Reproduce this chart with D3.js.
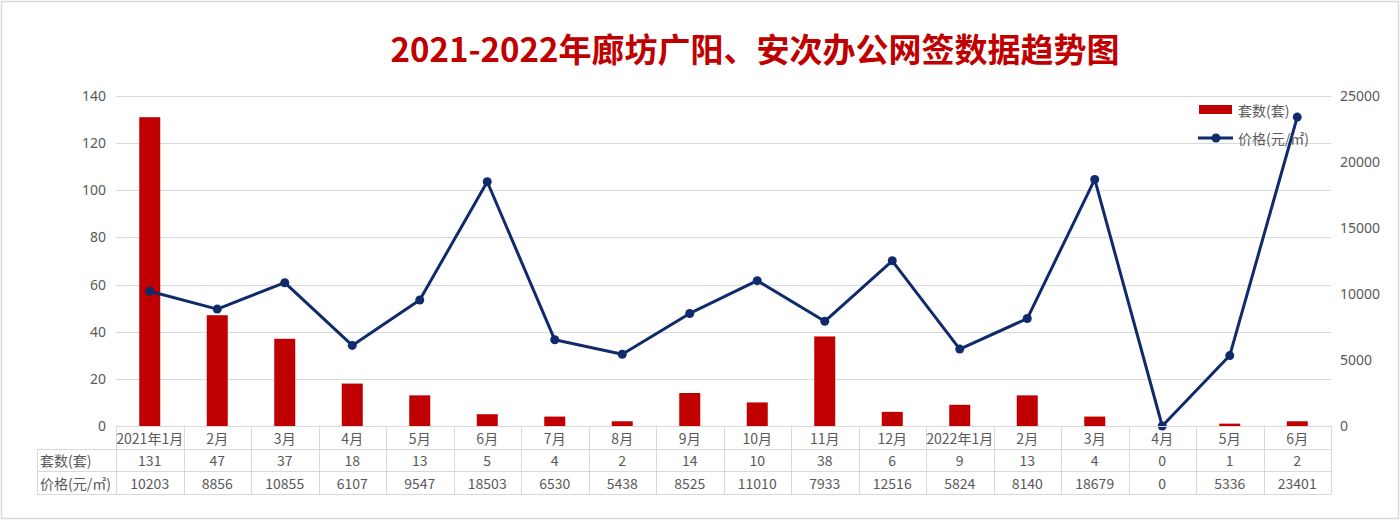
<!DOCTYPE html>
<html><head><meta charset="utf-8">
<script src="https://cdn.jsdelivr.net/npm/d3@7"></script>
<style>
html,body{margin:0;padding:0;background:#fff;}
svg{display:block;font-family:"Noto Sans CJK SC","Noto Sans",sans-serif;}
</style></head>
<body>
<svg id="c" width="1400" height="521"></svg>
<script>
const categories = ["2021年1月","2月","3月","4月","5月","6月","7月","8月","9月","10月","11月","12月","2022年1月","2月","3月","4月","5月","6月"];
const counts = [131,47,37,18,13,5,4,2,14,10,38,6,9,13,4,0,1,2];
const prices = [10203,8856,10855,6107,9547,18503,6530,5438,8525,11010,7933,12516,5824,8140,18679,0,5336,23401];
const leftTicks = [0,20,40,60,80,100,120,140];
const rightTicks = [0,5000,10000,15000,20000,25000];
const seriesNames = ["套数(套)","价格(元/㎡)"];
const title = "2021-2022年廊坊广阳、安次办公网签数据趋势图";

const svg = d3.select("#c");
const W=1400,H=521;
svg.append("rect").attr("x",1.5).attr("y",1.5).attr("width",W-3).attr("height",H-4)
  .attr("fill","#fff").attr("stroke","#d9d9d9").attr("stroke-width",1.5);

const x0=116, x1=1331, yTop=96, yBot=426;
const x = d3.scaleBand().domain(d3.range(categories.length)).range([x0,x1]).padding(0);
const yL = d3.scaleLinear().domain([0,140]).range([yBot,yTop]);
const yR = d3.scaleLinear().domain([0,25000]).range([yBot,yTop]);
const txt="#595959";
const fs=14;

svg.append("text").attr("x",755).attr("y",62).attr("text-anchor","middle")
  .attr("font-size",33).attr("font-weight","bold").attr("fill","#C00000").text(title);

// gridlines
svg.append("g").selectAll("line").data(leftTicks.slice(1)).join("line")
  .attr("x1",x0).attr("x2",x1).attr("y1",d=>Math.round(yL(d))+0.5).attr("y2",d=>Math.round(yL(d))+0.5)
  .attr("stroke","#d9d9d9").attr("stroke-width",1);

// left axis labels
const gl = svg.append("g").attr("transform",`translate(${x0-10},0)`)
  .call(d3.axisLeft(yL).tickValues(leftTicks).tickFormat(d3.format("d")).tickSize(0).tickPadding(0));
gl.select(".domain").remove();
gl.selectAll("text").attr("font-size",fs).attr("fill",txt).attr("font-family","'Noto Sans','Noto Sans CJK SC',sans-serif");
const gr = svg.append("g").attr("transform",`translate(${x1+9},0)`)
  .call(d3.axisRight(yR).tickValues(rightTicks).tickFormat(d3.format("d")).tickSize(0).tickPadding(0));
gr.select(".domain").remove();
gr.selectAll("text").attr("font-size",fs).attr("fill",txt).attr("font-family","'Noto Sans','Noto Sans CJK SC',sans-serif");

// bars
const bw=21;
svg.append("g").selectAll("rect").data(counts).join("rect")
  .attr("x",(d,i)=>x(i)+x.bandwidth()/2-bw/2).attr("width",bw)
  .attr("y",d=>yL(d)).attr("height",d=>yBot-yL(d)).attr("fill","#C00000");

// line
const lineColor="#0F2B6B";
svg.append("path").datum(prices)
  .attr("d",d3.line().x((d,i)=>x(i)+x.bandwidth()/2).y(d=>yR(d)))
  .attr("fill","none").attr("stroke",lineColor).attr("stroke-width",3).attr("stroke-linejoin","round");
svg.append("g").selectAll("circle").data(prices).join("circle")
  .attr("cx",(d,i)=>x(i)+x.bandwidth()/2).attr("cy",d=>yR(d)).attr("r",4.5).attr("fill",lineColor);

// table
const rowY=[426,449,471,494];
const labX=37;
const tg=svg.append("g");
const bc="#d9d9d9";
tg.append("line").attr("x1",x0).attr("x2",x1).attr("y1",rowY[0]+0.5).attr("y2",rowY[0]+0.5).attr("stroke",bc);
[1,2,3].forEach(r=>tg.append("line").attr("x1",labX).attr("x2",x1).attr("y1",rowY[r]+0.5).attr("y2",rowY[r]+0.5).attr("stroke",bc));
tg.append("line").attr("x1",labX+0.5).attr("x2",labX+0.5).attr("y1",rowY[1]).attr("y2",rowY[3]).attr("stroke",bc);
d3.range(categories.length+1).forEach(i=>{
  const xx = i<categories.length ? x(i) : x1;
  tg.append("line").attr("x1",Math.round(xx)+0.5).attr("x2",Math.round(xx)+0.5).attr("y1",rowY[0]).attr("y2",rowY[3]).attr("stroke",bc);
});
const cellText=(xx,yy,t,anchor)=>tg.append("text").attr("x",xx).attr("y",yy).attr("text-anchor",anchor||"middle")
  .attr("dominant-baseline","central").attr("font-size",fs).attr("fill",txt).text(t);
categories.forEach((c,i)=>{
  const cx=x(i)+x.bandwidth()/2;
  cellText(cx,(rowY[0]+rowY[1])/2,c);
  cellText(cx,(rowY[1]+rowY[2])/2,counts[i]);
  cellText(cx,(rowY[2]+rowY[3])/2,prices[i]);
});
cellText(labX+3,(rowY[1]+rowY[2])/2,seriesNames[0],"start");
cellText(labX+3,(rowY[2]+rowY[3])/2,seriesNames[1],"start");

// legend
const lg=svg.append("g");
lg.append("rect").attr("x",1199).attr("y",105).attr("width",33).attr("height",9).attr("fill","#C00000");
lg.append("text").attr("x",1238).attr("y",110).attr("dominant-baseline","central").attr("font-size",fs).attr("fill",txt).text(seriesNames[0]);
lg.append("line").attr("x1",1198).attr("x2",1233).attr("y1",138).attr("y2",138).attr("stroke",lineColor).attr("stroke-width",3);
lg.append("circle").attr("cx",1216).attr("cy",138).attr("r",4.5).attr("fill",lineColor);
lg.append("text").attr("x",1238).attr("y",138).attr("dominant-baseline","central").attr("font-size",fs).attr("fill",txt).text(seriesNames[1]);
</script>
</body></html>
